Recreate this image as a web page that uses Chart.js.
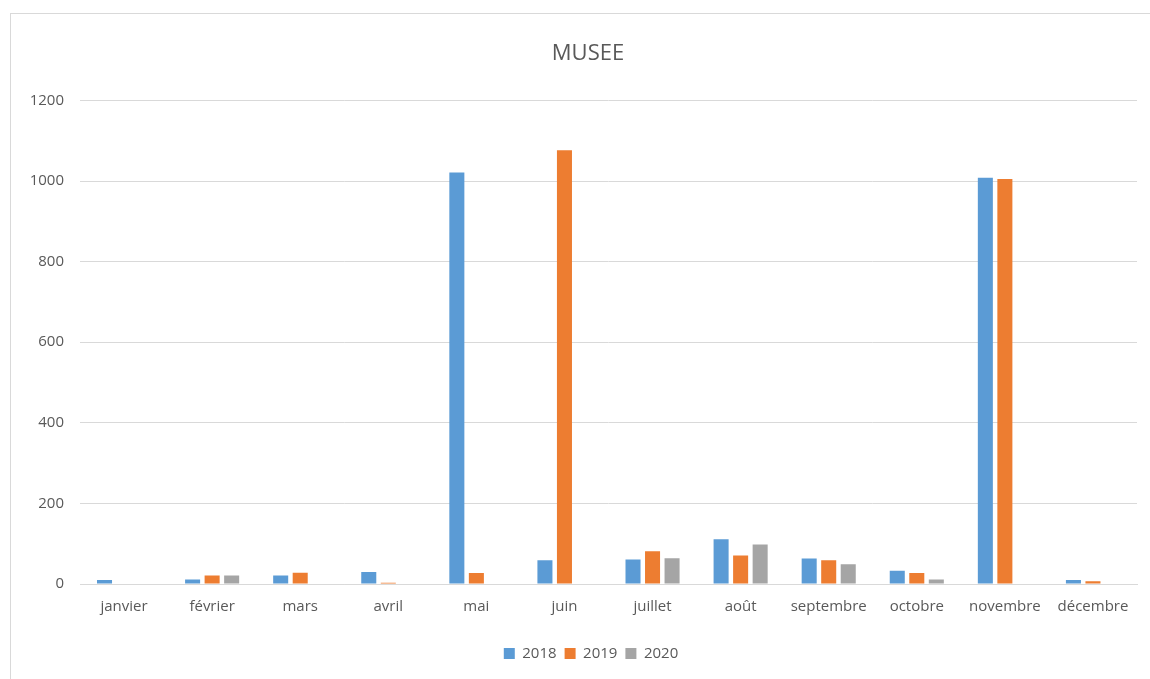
<!DOCTYPE html>
<html>
<head>
<meta charset="utf-8">
<script src="https://cdn.jsdelivr.net/npm/chart.js@4/dist/chart.umd.min.js"></script>
<style>
  html, body { margin: 0; padding: 0; background: #fff; overflow: hidden; }
  #box {
    position: absolute; left: 10px; top: 13px; width: 1170px; height: 680px;
    border: 1px solid #d9d9d9; background: #fff;
  }
  #wrap { position: absolute; left: 0; top: 0; width: 1160px; height: 665px; }
</style>
</head>
<body>
<div id="box"><div id="wrap"><canvas id="chart"></canvas></div></div>
<script>
const months = ['janvier', 'février', 'mars', 'avril', 'mai', 'juin', 'juillet', 'août', 'septembre', 'octobre', 'novembre', 'décembre'];
const visits2018 = [10, 11, 21, 30, 1021, 59, 61, 111, 63, 33, 1008, 10];
const visits2019 = [0, 21, 28, 3, 27, 1076, 81, 71, 59, 27, 1005, 7];
const visits2020 = [0, 21, 0, 0, 0, 0, 64, 98, 49, 11, 0, 0];
const yTicks = [0, 200, 400, 600, 800, 1000, 1200];

const textColor = '#595959';
const font = 'Open Sans';

// title and legend sit a bit right of the canvas centre in the original
const shiftBoxes = {
  id: 'shiftBoxes',
  afterLayout(chart) {
    if (chart.titleBlock) { chart.titleBlock.left += 28; chart.titleBlock.right += 0; }
    if (chart.legend) { chart.legend.left += 34; }
  }
};

new Chart(document.getElementById('chart'), {
  type: 'bar',
  data: {
    labels: months,
    datasets: [
      { label: '2018', data: visits2018, backgroundColor: '#5b9bd5' },
      { label: '2019', data: visits2019, backgroundColor: '#ed7d31' },
      { label: '2020', data: visits2020, backgroundColor: '#a5a5a5' }
    ]
  },
  plugins: [shiftBoxes],
  options: {
    responsive: true,
    maintainAspectRatio: false,
    animation: false,
    datasets: { bar: { categoryPercentage: 0.665, barPercentage: 0.77 } },
    layout: { padding: { left: 0, right: 34, top: 10, bottom: 8 } },
    plugins: {
      title: {
        display: true,
        text: 'MUSEE',
        color: textColor,
        font: { family: font, size: 22, weight: 'normal' },
        padding: { top: 17, bottom: 33 }
      },
      legend: {
        position: 'bottom',
        labels: {
          color: textColor,
          font: { family: font, size: 15 },
          boxWidth: 11,
          boxHeight: 11,
          padding: 8
        }
      },
      tooltip: { enabled: false }
    },
    scales: {
      x: {
        grid: { display: false, drawTicks: false },
        border: { color: '#d9d9d9' },
        afterFit: (axis) => { axis.height = 54; },
        ticks: { color: textColor, font: { family: font, size: 15 }, padding: 14, maxRotation: 0 }
      },
      y: {
        min: 0,
        max: 1200,
        afterBuildTicks: (axis) => { axis.ticks = yTicks.map(v => ({ value: v })); },
        afterFit: (axis) => { axis.width = 69; },
        grid: { color: '#d9d9d9', drawTicks: false },
        border: { display: false },
        ticks: { color: textColor, font: { family: font, size: 15 }, padding: 16, callback: (v) => String(v) }
      }
    }
  }
});
</script>
</body>
</html>
